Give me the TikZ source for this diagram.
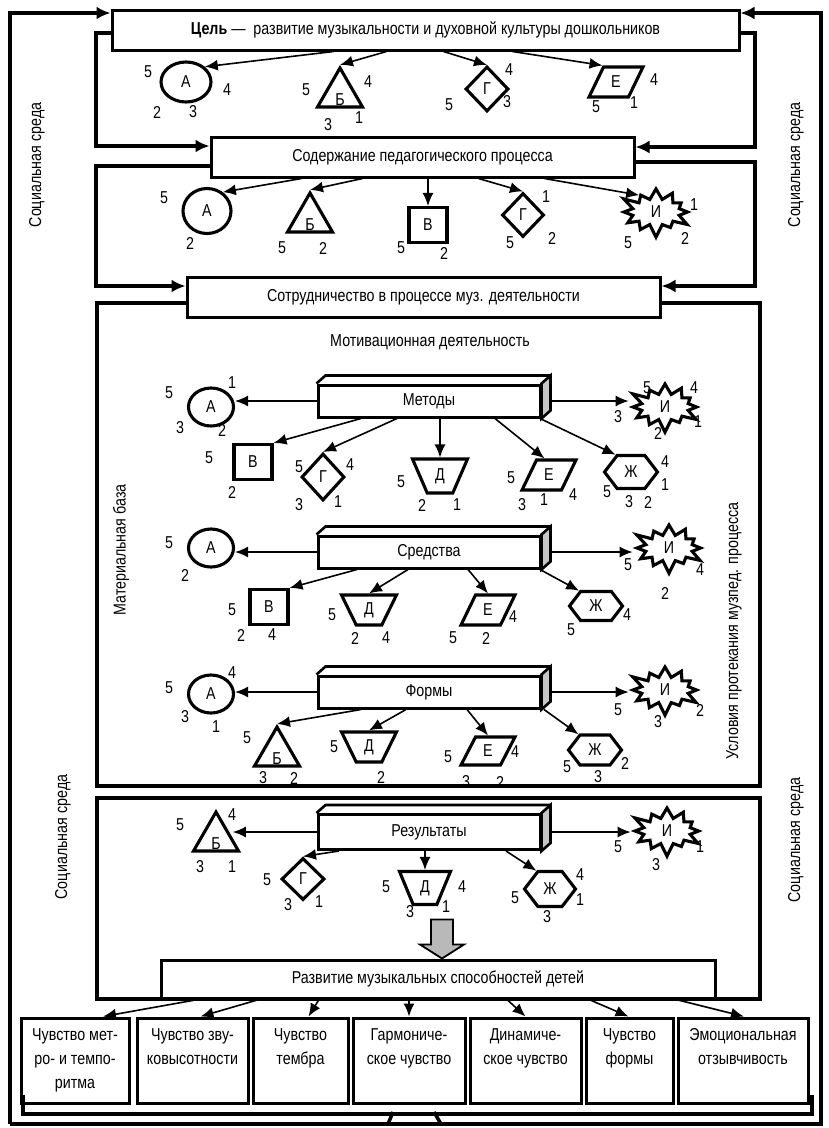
\documentclass[tikz,border=0pt]{standalone}
\usepackage{fontspec}
\setmainfont{Liberation Sans}[FakeStretch=0.83]
\usetikzlibrary{shapes.geometric,shapes.symbols,arrows.meta}

\begin{document}
\begin{tikzpicture}[x=1pt,y=-1pt,
  every node/.style={font=\fontsize{17.2}{20}\selectfont, inner sep=0pt},
  box/.style={draw, line width=3pt, fill=white},
  fig/.style={draw, line width=3.1pt, fill=white},
  krug/.style={fig, ellipse, minimum width=47pt, minimum height=40pt},
  treug/.style={fig, regular polygon, regular polygon sides=3, minimum size=52pt},
  kvadr/.style={fig, rectangle, minimum width=38pt, minimum height=35pt},
  romb/.style={fig, diamond, minimum width=43pt, minimum height=45pt},
  trap/.style={fig, trapezium, trapezium left angle=110, trapezium right angle=110, trapezium stretches, minimum width=55pt, minimum height=32pt},
  parall/.style={fig, trapezium, trapezium left angle=65, trapezium right angle=115, trapezium stretches, minimum width=54pt, minimum height=29pt},
  shest/.style={fig, signal, signal to=west and east, signal pointer angle=105, minimum width=53pt, minimum height=33pt},
  vzryv/.style={fig, starburst, starburst points=12, starburst point height=14pt, minimum width=76pt, minimum height=54pt},
  brus/.style={box, minimum width=222pt, minimum height=32pt},
  kletka/.style={box, minimum height=85pt},
  strel/.style={-{Latex[length=13pt,width=11pt]}, line width=1.6pt},
  skoba/.style={line width=4.5pt, -{Latex[length=14pt,width=13pt]}}
]
\useasboundingbox (0,0) rectangle (828,1128);

\coordinate (lt) at (10,13);
\coordinate (rt) at (821,13);
\coordinate (lb) at (10,1124);
\coordinate (rb) at (821,1124);

% big frames
\draw[line width=3.5pt] (97,303) rectangle (760,786);
\draw[line width=3.5pt] (97,798) rectangle (760,999);

\node[box, minimum width=627pt, minimum height=40pt] (cel) at (425.5,30) {\textbf{Цель} —~~развитие музыкальности и духовной культуры дошкольников};
\node[box, minimum width=423pt, minimum height=40pt] (sod) at (422.5,157) {Содержание педагогического процесса};
\node[box, minimum width=473pt, minimum height=40pt] (sotr) at (423.5,297) {Сотрудничество в процессе муз. деятельности};
\node[box, minimum width=554pt, minimum height=38pt] (raz) at (438,979) {Развитие музыкальных способностей детей};

\draw[skoba] (lb) -- (lt) -- (lt -| cel.west);
\draw[skoba] (lb) -- (rb) -- (rt) -- (rt -| cel.east);
\draw[skoba] ([yshift=-3pt]cel.west) -| (96,146) -- ([yshift=11pt]sod.west);
\draw[skoba] ([yshift=-3pt]cel.east) -| (755,147) -- ([yshift=10pt]sod.east);
\draw[skoba] ([yshift=-9pt]sod.west) -| (96,286) -- ([yshift=11pt]sotr.west);
\draw[skoba] ([yshift=-5pt]sod.east) -| (755,286) -- ([yshift=11pt]sotr.east);

\node[rotate=90] (soc1) at (37,165) {Социальная среда};
\node[rotate=90] (soc2) at (796,165) {Социальная среда};
\node[rotate=90] (soc3) at (63,837) {Социальная среда};
\node[rotate=90] (soc4) at (796,840) {Социальная среда};
\node[rotate=90] (mat) at (121,550) {Материальная база};
\node[rotate=90] (usl) at (734,631) {Условия протекания музпед. процесса};
\node (motiv) at (430,342) {Мотивационная деятельность};

% goal
\node[krug, minimum width=50pt] (a1) at (186,82) {А};
\node[treug] (b1) at (340,94) {\raisebox{-11pt}[0pt][0pt]{Б}};
\node[romb] (g1) at (487,89) {Г};
\node[parall, minimum height=30pt] (e1) at (616,82) {Е};
\draw[strel] ([xshift=-92pt]cel.south) -- (a1.north east);
\draw[strel] ([xshift=-39pt]cel.south) -- (b1.corner 1);
\draw[strel] ([xshift=18pt]cel.south) -- (g1.north);
\draw[strel] ([xshift=87pt]cel.south) -- (e1.top left corner);
\foreach \x/\y/\t [count=\i] in {148/72/5, 227/90/4, 157/112/2, 193/112/3, 306/90/5, 368/82/4, 328/125/3, 359/118/1,
  509/70/4, 507/102/3, 449/105/5, 654/80/4, 596/107/5, 634/103/1}
  \node (nc\i) at (\x,\y) {\t};

% content
\node[krug, minimum width=48pt, minimum height=45pt] (a2) at (207,211) {А};
\node[treug] (b2) at (310,219) {\raisebox{-11pt}[0pt][0pt]{Б}};
\node[kvadr] (v2) at (428,225) {В};
\node[romb, minimum width=42pt, minimum height=44pt] (g2) at (523,215) {Г};
\node[vzryv] (i2) at (656,212) {И};
\draw[strel] ([xshift=-121pt]sod.south) -- (a2.50);
\draw[strel] ([xshift=-60pt]sod.south) -- (b2.corner 1);
\draw[strel] (v2.north |- sod.south) -- (v2.north);
\draw[strel] ([xshift=56pt]sod.south) -- (g2.north);
\draw[strel] ([xshift=122pt]sod.south) -- (i2.north west);
\foreach \x/\y/\t [count=\i] in {164/198/5, 190/243/2, 282/248/5, 323/248/2, 401/248/5, 444/253/2,
  546/197/1, 510/243/5, 552/238/2, 694/205/1, 685/238/2, 628/243/5}
  \node (ns\i) at (\x,\y) {\t};

% methods
\node[brus] (met) at (429,401) {Методы};
\node[krug, minimum width=45pt, minimum height=38pt] (a3) at (211,407) {А};
\node[vzryv] (i3) at (665,407) {И};
\node[kvadr] (v3) at (253,462) {В};
\node[romb, minimum height=47pt] (g3) at (323,477) {Г};
\node[trap, minimum height=34pt] (d3) at (440,476) {Д};
\node[parall, minimum height=30pt] (e3) at (549,475) {Е};
\node[shest] (zh3) at (631,472) {Ж};
\draw[strel] (met.west) -- (met.west -| a3.east);
\draw[strel] ([xshift=6pt]met.east) -- (met.east -| i3.west);
\draw[strel] ([xshift=-68pt]met.south) -- (v3.north east);
\draw[strel] ([xshift=-32pt]met.south) -- (g3.north);
\draw[strel] (d3.north |- met.south) -- (d3.north);
\draw[strel] ([xshift=66pt]met.south) -- ([xshift=9pt]e3.top left corner);
\draw[strel] ([xshift=111pt]met.south) -- (zh3.north west);
\foreach \x/\y/\t [count=\i] in {169/393/5, 232/383/1, 180/428/3, 222/430/2, 647/388/5, 694/388/4, 618/417/3, 698/422/1, 658/433/2,
  209/458/5, 232/492/2, 299/467/5, 350/465/4, 299/505/3, 338/502/1, 401/482/5, 422/505/2, 457/505/1,
  511/478/5, 573/495/4, 522/505/3, 544/500/1, 665/462/4, 665/485/1, 607/492/5, 629/502/3, 648/502/2}
  \node (nm\i) at (\x,\y) {\t};

% means
\node[brus] (sred) at (429,552) {Средства};
\node[krug, minimum width=45pt, minimum height=38pt] (a4) at (211,548) {А};
\node[vzryv] (i4) at (669,548) {И};
\node[kvadr] (v4) at (269,607) {В};
\node[trap, minimum height=30pt] (d4) at (369,610) {Д};
\node[parall, minimum height=30pt] (e4) at (488,610) {Е};
\node[shest, minimum height=29pt] (zh4) at (596,606) {Ж};
\draw[strel] (sred.west) -- (sred.west -| a4.east);
\draw[strel] ([xshift=6pt]sred.east) -- (sred.east -| i4.west);
\draw[strel] ([xshift=-72pt]sred.south) -- (v4.north east);
\draw[strel] ([xshift=-21pt]sred.south) -- (d4.north);
\draw[strel] ([xshift=39pt]sred.south) -- (e4.north);
\draw[strel] ([xshift=111pt]sred.south) -- (zh4.north west);
\foreach \x/\y/\t [count=\i] in {169/543/5, 185/575/2, 628/565/5, 700/570/4, 665/593/2, 232/610/5, 241/635/2, 272/635/4,
  332/615/5, 355/638/2, 386/638/4, 513/617/4, 453/638/5, 486/638/2, 627/615/4, 571/630/5}
  \node (nr\i) at (\x,\y) {\t};

% forms
\node[brus] (form) at (429,692) {Формы};
\node[krug, minimum width=45pt, minimum height=38pt] (a5) at (211,694) {А};
\node[vzryv] (i5) at (665,690) {И};
\node[treug] (b5) at (277,753) {\raisebox{-11pt}[0pt][0pt]{Б}};
\node[trap, minimum height=30pt] (d5) at (369,747) {Д};
\node[parall, minimum height=28pt] (e5) at (488,751) {Е};
\node[shest, minimum height=30pt] (zh5) at (595,750) {Ж};
\draw[strel] (form.west) -- (form.west -| a5.east);
\draw[strel] ([xshift=6pt]form.east) -- (form.east -| i5.west);
\draw[strel] ([xshift=-68pt]form.south) -- (b5.corner 1);
\draw[strel] ([xshift=-23pt]form.south) -- (d5.north);
\draw[strel] ([xshift=38pt]form.south) -- (e5.north);
\draw[strel] ([xshift=115pt]form.south) -- (zh5.north west);
\foreach \x/\y/\t [count=\i] in {169/688/5, 232/673/4, 185/717/3, 216/727/1, 618/710/5, 700/710/2, 658/722/3,
  247/738/5, 263/778/3, 294/778/2, 334/747/5, 381/777/2, 448/757/5, 515/752/4, 466/782/3, 500/782/2,
  567/767/5, 625/763/2, 598/777/3}
  \node (nf\i) at (\x,\y) {\t};

% results
\node[brus, minimum height=35pt] (res) at (429,832) {Результаты};
\node[treug] (b6) at (216,838) {\raisebox{-11pt}[0pt][0pt]{Б}};
\node[vzryv] (i6) at (667,831) {И};
\node[romb, minimum height=42pt] (g6) at (303,879) {Г};
\node[trap, minimum width=51pt, minimum height=33pt] (d6) at (425,888) {Д};
\node[shest, minimum width=51pt, minimum height=35pt] (zh6) at (550,889) {Ж};
\draw[strel] (res.west) -- (res.west -| b6.east);
\draw[strel] ([xshift=6pt]res.east) -- (res.east -| i6.west);
\draw[strel] ([xshift=-90pt]res.south) -- (g6.north);
\draw[strel] (d6.north |- res.south) -- (d6.north);
\draw[strel] ([xshift=77pt]res.south) -- (zh6.north west);
\foreach \x/\y/\t [count=\i] in {180/825/5, 232/815/4, 200/867/3, 232/867/1, 618/847/5, 700/847/1, 656/865/3,
  267/880/5, 288/905/3, 319/902/1, 386/887/5, 462/887/4, 410/912/3, 446/907/1,
  580/875/4, 515/898/5, 580/900/1, 547/917/3}
  \node (nz\i) at (\x,\y) {\t};

\foreach \b in {met,sred,form,res} {
  \draw[line width=2.6pt, fill=gray!45] (\b.north east) -- ([shift={(9,-8)}]\b.north east) -- ([shift={(9,-8)}]\b.south east) -- (\b.south east) -- cycle;
  \draw[line width=2.6pt] (\b.north west) -- ([shift={(9,-8)}]\b.north west) -- ([shift={(9,-8)}]\b.north east);
}

\draw[line width=1.8pt, fill=gray!55] ([xshift=4pt]raz.north) -- ++(-22,-14) -- ++(11,0) -- ++(0,-25) -- ++(22,0) -- ++(0,25) -- ++(11,0) -- cycle;

\foreach \n/\x/\w/\t in {1/75/108/{Чувство мет-\\ро- и темпо-\\ритма}, 2/192.5/111/{Чувство зву-\\ковысотности},
  3/300.5/95/{Чувство\\тембра}, 4/409/112/{Гармониче-\\ское чувство}, 5/525.5/111/{Динамиче-\\ское чувство},
  6/629.5/87/{Чувство\\формы}, 7/743/130/{Эмоциональная\\отзывчивость}} {
  \node[kletka, minimum width=\w pt] (k\n) at (\x,1060.5) {};
  \node[align=center, anchor=north, font=\fontsize{17.2}{24}\selectfont] (kt\n) at ([yshift=-12pt]k\n.north) {\t};
}
\foreach \s/\e/\n in {-240/28/1, -179/8/2, -119/8/3, -29/0/4, 69/0/5, 151/-1/6, 238/1/7}
  \draw[strel] ([xshift=\s pt]raz.south) -- ([xshift=\e pt]k\n.north);

\draw[line width=4pt] ([shift={(3,-10)}]k1.south west) |- ([shift={(2,9)}]k7.south east) -- ([shift={(2,-10)}]k7.south east);
\draw[line width=3.5pt] (393,1112) -- (388,1124);
\draw[line width=3.5pt] (434,1112) -- (441,1124);
\end{tikzpicture}
\end{document}
